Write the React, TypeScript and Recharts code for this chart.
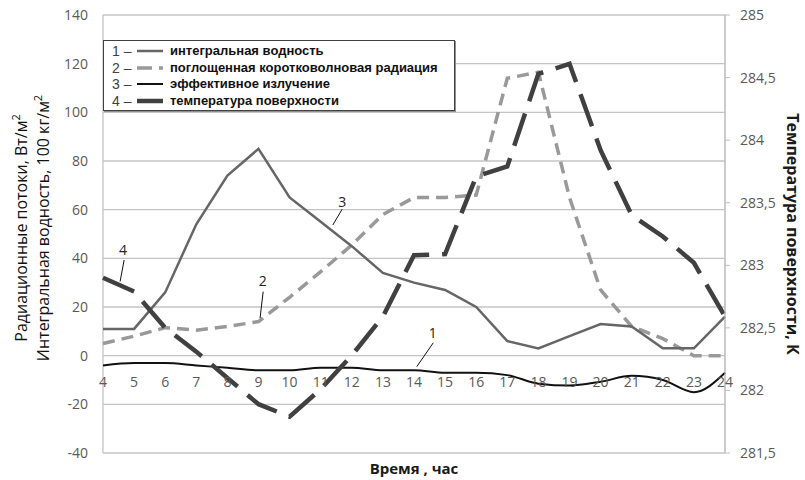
import React from 'react';
import { LineChart, Line, XAxis, YAxis, CartesianGrid, ReferenceLine, ReferenceDot, Legend } from 'recharts';

const hours = [4, 5, 6, 7, 8, 9, 10, 11, 12, 13, 14, 15, 16, 17, 18, 19, 20, 21, 22, 23, 24];
const integralWater = [11, 11, 26, 54, 74, 85, 65, 55, 45, 34, 30, 27, 20, 6, 3, 8, 13, 12, 3, 3, 16];
const shortwaveRad = [5, 8, 11.5, 10.5, 12, 14, 24, 34.5, 45.5, 58, 65, 65, 66, 114, 116.5, 65, 27, 12, 7, 0, 0];
const effectiveRad = [-4, -3, -3, -4, -5, -6, -6, -5, -5, -6, -6, -7, -7, -8, -11.5, -12.3, -10.7, -8.3, -10, -15, -7];
const surfaceTemp = [282.9, 282.79, 282.5, 282.31, 282.1, 281.89, 281.79, 282.01, 282.28, 282.59, 283.08, 283.09, 283.71, 283.79, 284.53, 284.61, 283.92, 283.4, 283.23, 283.02, 282.59];

const leftTicks = [-40, -20, 0, 20, 40, 60, 80, 100, 120, 140];
const rightTicks = [281.5, 282, 282.5, 283, 283.5, 284, 284.5, 285];

const legendNumbers = ['1', '2', '3', '4'];
const legendLabels = [
  'интегральная водность',
  'поглощенная коротковолновая радиация',
  'эффективное излучение',
  'температура поверхности',
];

const calloutText = ['4', '2', '3', '1'];
const calloutAt = [
  { tx: 4.64, ty: 43.4, x1: 4.68, y1: 39.3, x2: 4.55, y2: 30.5 },
  { tx: 9.14, ty: 30.7, x1: 9.15, y1: 26.3, x2: 9.05, y2: 15.4 },
  { tx: 11.69, ty: 63.3, x1: 11.69, y1: 60.2, x2: 11.39, y2: 53.7 },
  { tx: 14.6, ty: 9.5, x1: 14.62, y1: 5.3, x2: 14.09, y2: -4.5 },
];

const data = hours.map((h, i) => ({
  hour: h,
  water: integralWater[i],
  shortwave: shortwaveRad[i],
  effective: effectiveRad[i],
  temp: surfaceTemp[i],
}));

const seriesStyles = [
  { stroke: '#666666', strokeWidth: 2.5, dash: undefined as string | undefined },
  { stroke: '#999999', strokeWidth: 3.5, dash: '12 7' },
  { stroke: '#111111', strokeWidth: 2, dash: undefined as string | undefined },
  { stroke: '#404040', strokeWidth: 4.5, dash: '34 13' },
];

const tickFont = { fontFamily: 'Open Sans', fontSize: 14, fill: '#595959' };

const LeftTitle = (props: any) => {
  const vb = props.viewBox || { x: 0, y: 15, width: 103, height: 438 };
  const cy = vb.y + vb.height / 2 - 6;
  const x1 = vb.x + 21;
  const x2 = vb.x + 43;
  const st = { fontFamily: 'Open Sans', fontSize: 16, fill: '#111' };
  return (
    <g>
      <text x={x1} y={cy} transform={`rotate(-90 ${x1} ${cy})`} textAnchor="middle" dominantBaseline="central" {...st}>
        Радиационные потоки, Вт/м<tspan dy={-6} fontSize={11}>2</tspan>
      </text>
      <text x={x2} y={cy} transform={`rotate(-90 ${x2} ${cy})`} textAnchor="middle" dominantBaseline="central" {...st}>
        Интегральная водность, 100 кг/м<tspan dy={-6} fontSize={11}>2</tspan>
      </text>
    </g>
  );
};

const RightTitle = (props: any) => {
  const vb = props.viewBox || { x: 725, y: 15, width: 80, height: 438 };
  const cy = vb.y + vb.height / 2;
  const x = vb.x + 68;
  return (
    <text x={x} y={cy} transform={`rotate(90 ${x} ${cy})`} textAnchor="middle" dominantBaseline="central"
      fontFamily="Open Sans" fontSize={16} fontWeight={700} fill="#1a1a1a">
      Температура поверхности, К
    </text>
  );
};

const XTitle = (props: any) => {
  const vb = props.viewBox || { x: 103, y: 453, width: 622, height: 27 };
  return (
    <text x={vb.x + vb.width / 2} y={vb.y + 15} textAnchor="middle" dominantBaseline="central"
      fontFamily="Open Sans" fontSize={15} fontWeight={700} fill="#1a1a1a">
      Время , час
    </text>
  );
};

const LegendBox = () => (
  <div
    style={{
      width: 352,
      height: 71,
      boxSizing: 'border-box',
      border: '1px solid #404040',
      boxShadow: '1px 1px 0 #909090',
      background: '#ffffff',
      paddingTop: 2,
      paddingLeft: 8,
    }}
  >
    {legendLabels.map((label, i) => (
      <div key={label} style={{ display: 'flex', alignItems: 'center', height: 16.5, lineHeight: '16px', whiteSpace: 'nowrap' }}>
        <span style={{ fontFamily: 'Liberation Sans', fontSize: 14, lineHeight: '16px', color: '#404040', width: 25 }}>
          {legendNumbers[i]} –
        </span>
        <svg width={32} height={10} style={{ marginRight: 1 }}>
          <line x1={0} y1={5} x2={26} y2={5}
            stroke={seriesStyles[i].stroke}
            strokeWidth={seriesStyles[i].strokeWidth}
            strokeDasharray={i === 1 ? '15 7' : undefined} />
        </svg>
        <span style={{ fontFamily: 'Liberation Sans', fontWeight: 700, fontSize: 13, lineHeight: '16px', color: '#111' }}>{label}</span>
      </div>
    ))}
  </div>
);

const fmtRight = (v: number) => String(v).replace('.', ',');

export default function App() {
  return (
    <div style={{ position: 'absolute', left: 0, top: 0, width: 805, height: 480, background: '#fff' }}>
      <LineChart width={805} height={480} data={data} margin={{ top: 15, right: 0, bottom: 0, left: 0 }}>
        <CartesianGrid yAxisId="left" stroke="#c4c4c4" strokeWidth={1.3} />
        <XAxis dataKey="hour" type="number" domain={[4, 24]} ticks={hours} tick={false} tickLine={false}
          axisLine={false} height={27} label={{ content: XTitle }} />
        <YAxis yAxisId="left" domain={[-40, 140]} ticks={leftTicks} width={103} tickLine={false} axisLine={false}
          tickMargin={9} tick={tickFont} label={{ content: LeftTitle }} />
        <YAxis yAxisId="right" orientation="right" domain={[281.5, 285]} ticks={rightTicks} width={80}
          tickSize={5} tickMargin={10} tickLine={{ stroke: '#bfbfbf' }} axisLine={{ stroke: '#bfbfbf' }}
          tick={tickFont} tickFormatter={fmtRight} label={{ content: RightTitle }} />
        <Legend content={LegendBox} verticalAlign="middle" layout="horizontal"
          wrapperStyle={{ left: 103, top: 40, width: 352 }} />
        {hours.map((h) => (
          <ReferenceDot key={'xt' + h} yAxisId="left" x={h} y={0} r={0} ifOverflow="visible"
            label={{ value: String(h), position: 'bottom', offset: 21, ...tickFont }} />
        ))}
        <Line yAxisId="left" dataKey="shortwave" name={legendLabels[1]} type="linear" dot={false}
          stroke={seriesStyles[1].stroke} strokeWidth={seriesStyles[1].strokeWidth}
          strokeDasharray={seriesStyles[1].dash} isAnimationActive={false} />
        <Line yAxisId="left" dataKey="water" name={legendLabels[0]} type="linear" dot={false}
          stroke={seriesStyles[0].stroke} strokeWidth={seriesStyles[0].strokeWidth} isAnimationActive={false} />
        <Line yAxisId="left" dataKey="effective" name={legendLabels[2]} type="monotone" dot={false}
          stroke={seriesStyles[2].stroke} strokeWidth={seriesStyles[2].strokeWidth} isAnimationActive={false} />
        <Line yAxisId="right" dataKey="temp" name={legendLabels[3]} type="linear" dot={false}
          stroke={seriesStyles[3].stroke} strokeWidth={seriesStyles[3].strokeWidth}
          strokeDasharray={seriesStyles[3].dash} isAnimationActive={false} />
        {calloutAt.map((c, i) => (
          <ReferenceLine key={'cl' + i} yAxisId="left" ifOverflow="visible"
            segment={[{ x: c.x1, y: c.y1 }, { x: c.x2, y: c.y2 }]} stroke="#111" strokeWidth={1} />
        ))}
        {calloutAt.map((c, i) => (
          <ReferenceDot key={'ct' + i} yAxisId="left" x={c.tx} y={c.ty} r={0} ifOverflow="visible"
            label={{ value: calloutText[i], position: 'center', fontFamily: 'Open Sans', fontSize: 14, fill: '#222' }} />
        ))}
      </LineChart>
    </div>
  );
}
